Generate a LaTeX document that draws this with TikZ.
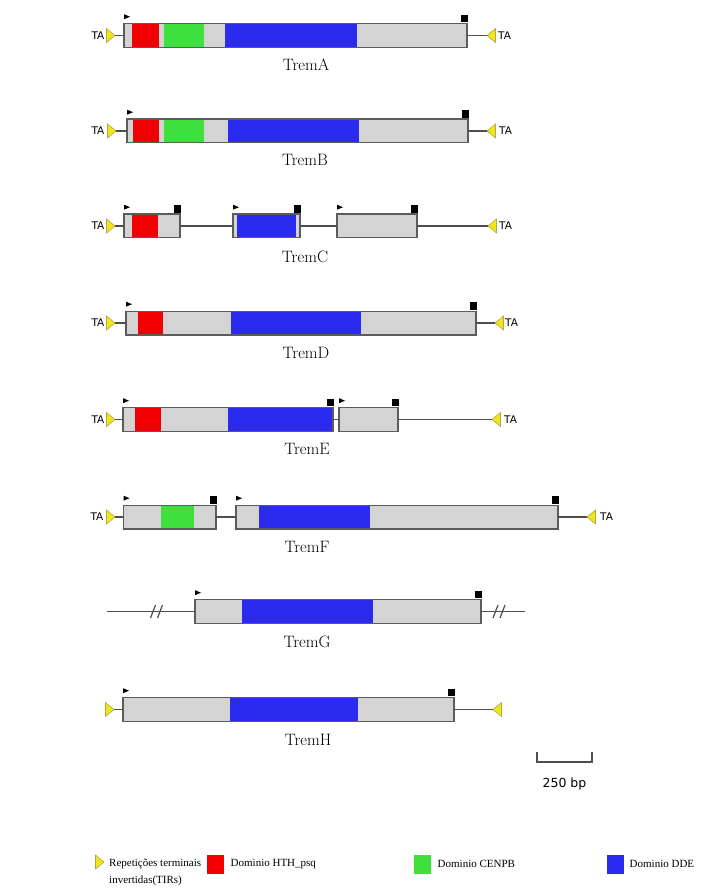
\documentclass[tikz,border=0pt]{standalone}
\usepackage{fontspec}
\newfontfamily\tafont{DejaVu Sans}
\newfontfamily\legfont{Liberation Serif}

\definecolor{exongray}{HTML}{D4D4D4}
\definecolor{exonedge}{HTML}{5C5C5C}
\definecolor{hth}{HTML}{F00000}
\definecolor{cenpb}{HTML}{3EE03E}
\definecolor{dde}{HTML}{2B2BEE}
\definecolor{tirfill}{HTML}{F2E51C}
\definecolor{tiredge}{HTML}{B0A948}
\definecolor{wirecol}{HTML}{4E4E4E}

\tikzset{
  exon/.style={draw=exonedge, fill=exongray, line width=1.4pt, minimum height=23.6pt,
    inner sep=0pt, outer sep=0pt, anchor=west},
  dom/.style={minimum height=22.2pt, inner sep=0pt, outer sep=0pt, anchor=west},
  wire/.style={draw=wirecol, line width=1.5pt},
  tir/.style={fill=tirfill, draw=tiredge, line width=0.6pt},
  lab/.style={font=\fontsize{16.5}{18}\selectfont, inner sep=0pt, anchor=base},
  ta/.style={font=\tafont\fontsize{10.5}{12}\selectfont, inner sep=0pt},
  legtxt/.style={font=\legfont\fontsize{11}{13}\selectfont, inner sep=0pt, anchor=base west},
  legsq/.style={minimum width=17pt, minimum height=19pt, inner sep=0pt, outer sep=0pt},
}

% exon box with start (triangle) and stop (square) marks: name, x1, x2, y
\newcommand\exonat[4]{%
  \node[exon, minimum width={#3-#2}] (#1) at (#2,#4) {};
  \fill ([yshift=4.5pt]#1.north west) -- ++(0,5) -- ++(6,-2.5) -- cycle;
  \fill ([xshift=0.7pt,yshift=1.5pt]#1.north east) rectangle ++(-6.5,7.5);
}
% protein domain inside an exon: name, colour, x1, x2, y
\newcommand\domat[5]{%
  \node[dom, fill=#2, minimum width={#4-#3}] (#1) at (#3,#5) {};
}
% terminal inverted repeats, tip towards the element
\newcommand\tirleft[3]{%
  \coordinate (#1) at (#2,#3);
  \filldraw[tir] (#1) -- ++(-8.5,7) -- ++(0,-14) -- cycle;
}
\newcommand\tirright[3]{%
  \coordinate (#1) at (#2,#3);
  \filldraw[tir] (#1) -- ++(8.5,7) -- ++(0,-14) -- cycle;
}

\begin{document}
\begin{tikzpicture}[x=1pt,y=1pt]
\useasboundingbox (0,0) rectangle (723,-890);
\fill[white] (0,0) rectangle (723,-890);

% ---------------- TremA
\exonat{A1}{124}{467}{-35.5}
\domat{A-hth}{hth}{132}{159}{-35.5}
\domat{A-cen}{cenpb}{164}{204}{-35.5}
\domat{A-dde}{dde}{225}{357}{-35.5}
\tirleft{A-l}{115}{-35.5}
\tirright{A-r}{487}{-35.5}
\draw[wire] (A-l) -- (A1.west) (A1.east) -- (A-r);
\node[ta, anchor=east] (A-ta1) at (104.5,-35.5) {TA};
\node[ta, anchor=west] (A-ta2) at (498,-35.5) {TA};
\node[lab] (A-name) at (306,-70.5) {TremA};

% ---------------- TremB
\exonat{B1}{127}{468}{-131}
\domat{B-hth}{hth}{133}{159}{-131}
\domat{B-cen}{cenpb}{164}{204}{-131}
\domat{B-dde}{dde}{228}{359}{-131}
\tirleft{B-l}{116}{-131}
\tirright{B-r}{487}{-131}
\draw[wire] (B-l) -- (B1.west) (B1.east) -- (B-r);
\node[ta, anchor=east] (B-ta1) at (104.5,-131) {TA};
\node[ta, anchor=west] (B-ta2) at (499,-131) {TA};
\node[lab] (B-name) at (305,-166) {TremB};

% ---------------- TremC
\exonat{C1}{124}{180}{-226}
\exonat{C2}{233}{300}{-226}
\exonat{C3}{337}{417}{-226}
\domat{C-hth}{hth}{132}{158}{-226}
\domat{C-dde}{dde}{237}{296}{-226}
\tirleft{C-l}{115}{-226}
\tirright{C-r}{488}{-226}
\draw[wire] (C-l) -- (C1.west) (C1.east) -- (C2.west) (C2.east) -- (C3.west) (C3.east) -- (C-r);
\node[ta, anchor=east] (C-ta1) at (104.5,-226) {TA};
\node[ta, anchor=west] (C-ta2) at (499,-226) {TA};
\node[lab] (C-name) at (305,-262) {TremC};

% ---------------- TremD
\exonat{D1}{126}{476}{-323}
\domat{D-hth}{hth}{138}{163}{-323}
\domat{D-dde}{dde}{231}{361}{-323}
\tirleft{D-l}{115}{-323}
\tirright{D-r}{495}{-323}
\draw[wire] (D-l) -- (D1.west) (D1.east) -- (D-r);
\node[ta, anchor=east] (D-ta1) at (104.5,-323) {TA};
\node[ta, anchor=west] (D-ta2) at (505,-323) {TA};
\node[lab] (D-name) at (306,-358) {TremD};

% ---------------- TremE
\exonat{E1}{123}{333}{-419.5}
\exonat{E2}{339}{398}{-419.5}
\domat{E-hth}{hth}{135}{161}{-419.5}
\domat{E-dde}{dde}{228}{332.3}{-419.5}
\tirleft{E-l}{115}{-419.5}
\tirright{E-r}{492}{-419.5}
\draw[wire] (E-l) -- (E1.west) (E1.east) -- (E2.west) (E2.east) -- (E-r);
\node[ta, anchor=east] (E-ta1) at (104.5,-419.5) {TA};
\node[ta, anchor=west] (E-ta2) at (504,-419.5) {TA};
\node[lab] (E-name) at (307,-454.5) {TremE};

% ---------------- TremF
\exonat{F1}{123.5}{216}{-517}
\exonat{F2}{236}{558}{-517}
\domat{F-cen}{cenpb}{161}{194}{-517}
\domat{F-dde}{dde}{258.5}{370}{-517}
\tirleft{F-l}{115}{-517}
\tirright{F-r}{587}{-517}
\draw[wire] (F-l) -- (F1.west) (F1.east) -- (F2.west) (F2.east) -- (F-r);
\node[ta, anchor=east] (F-ta1) at (103.5,-517) {TA};
\node[ta, anchor=west] (F-ta2) at (600,-517) {TA};
\node[lab] (F-name) at (307,-552) {TremF};

% ---------------- TremG (flanks cut short)
\exonat{G1}{195}{481}{-611.5}
\domat{G-dde}{dde}{242}{373}{-611.5}
\coordinate (G-l) at (107,-611.5);
\coordinate (G-r) at (525,-611.5);
\draw[wire] (G-l) -- (G1.west) (G1.east) -- (G-r);
\draw[wire, line width=1.2pt] (150.5,-618) -- (155.5,-605) (157.5,-618) -- (162.5,-605);
\draw[wire, line width=1.2pt] (493,-618) -- (498,-605) (500,-618) -- (505,-605);
\node[lab] (G-name) at (307,-647) {TremG};

% ---------------- TremH
\exonat{H1}{123}{454}{-709.5}
\domat{H-dde}{dde}{230}{358}{-709.5}
\tirleft{H-l}{114}{-709.5}
\tirright{H-r}{493}{-709.5}
\draw[wire] (H-l) -- (H1.west) (H1.east) -- (H-r);
\node[lab] (H-name) at (308,-745) {TremH};

% ---------------- scale bar
\coordinate (S-a) at (537,-752);
\coordinate (S-b) at (592,-752);
\draw[wirecol, line width=1.2pt] (S-a) -- ++(0,-10) -| (S-b);
\node[font=\tafont\fontsize{12.5}{14}\selectfont, inner sep=0pt, anchor=base] (S-txt) at (564.5,-787) {250 bp};

% ---------------- legend
\tirleft{L-tir}{104}{-862}
\node[legtxt] (L-t1) at (109,-866) {Repetições terminais};
\node[legtxt] (L-t2) at (109,-883) {invertidas(TIRs)};
\node[legsq, fill=hth] (L-hth) at (215,-864) {};
\node[legtxt, anchor=west] (L-hthtxt) at ([xshift=7pt]L-hth.east) {Dominio HTH\_psq};
\node[legsq, fill=cenpb] (L-cen) at (422,-864) {};
\node[legtxt, anchor=west] (L-centxt) at ([xshift=7pt]L-cen.east) {Dominio CENPB};
\node[legsq, fill=dde] (L-dde) at (615,-864) {};
\node[legtxt, anchor=west] (L-ddetxt) at ([xshift=6pt]L-dde.east) {Dominio DDE};
\end{tikzpicture}
\end{document}
